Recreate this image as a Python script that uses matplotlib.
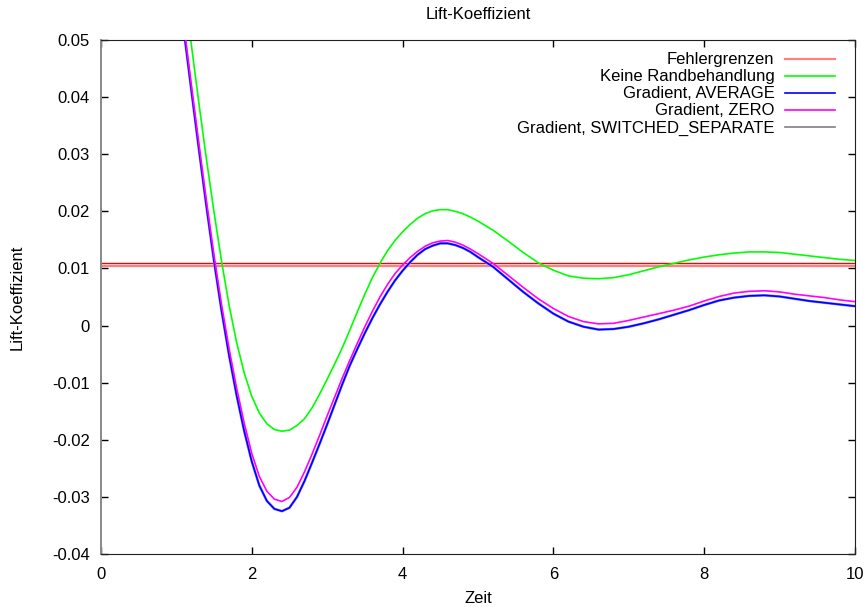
import matplotlib
matplotlib.use('Agg')
import matplotlib.pyplot as plt
from matplotlib.ticker import FuncFormatter

plt.rcParams['font.family'] = ['Liberation Sans', 'DejaVu Sans']
plt.rcParams['font.size'] = 12

# Zeitpunkte: 0.1er Schritte bis 5, danach 0.2er
zeit = [1.0, 1.1, 1.2, 1.3, 1.4, 1.5, 1.6, 1.7, 1.8, 1.9,
        2.0, 2.1, 2.2, 2.3, 2.4, 2.5, 2.6, 2.7, 2.8, 2.9,
        3.0, 3.1, 3.2, 3.3, 3.4, 3.5, 3.6, 3.7, 3.8, 3.9,
        4.0, 4.1, 4.2, 4.3, 4.4, 4.5, 4.6, 4.7, 4.8, 4.9,
        5.0, 5.2, 5.4, 5.6, 5.8, 6.0, 6.2, 6.4, 6.6, 6.8,
        7.0, 7.2, 7.4, 7.6, 7.8, 8.0, 8.2, 8.4, 8.6, 8.8,
        9.0, 9.2, 9.4, 9.6, 9.8, 10.0]

keine_rand = [0.0690, 0.0590, 0.0490, 0.0388, 0.0290, 0.0198, 0.0112, 0.0035, -0.0030, -0.0083,
              -0.0124, -0.0153, -0.0172, -0.0182, -0.0185, -0.0183, -0.0175, -0.0163, -0.0144, -0.0120,
              -0.0094, -0.0067, -0.0039, -0.0008, 0.0024, 0.0055, 0.0084, 0.0109, 0.0131, 0.0149,
              0.0164, 0.0177, 0.0188, 0.0196, 0.0201, 0.0203, 0.0203, 0.0200, 0.0196, 0.0190,
              0.0183, 0.0167, 0.0148, 0.0128, 0.0110, 0.0097, 0.0087, 0.0083, 0.0082, 0.0084,
              0.0089, 0.0096, 0.0103, 0.0109, 0.0115, 0.0120, 0.0124, 0.0127, 0.0129, 0.0129,
              0.0128, 0.0125, 0.0122, 0.0119, 0.0116, 0.0114]

grad_average = [0.0620, 0.0515, 0.0410, 0.0307, 0.0207, 0.0112, 0.0025, -0.0053, -0.0123, -0.0185,
                -0.0238, -0.0280, -0.0307, -0.0321, -0.0325, -0.0319, -0.0300, -0.0272, -0.0240, -0.0207,
                -0.0173, -0.0138, -0.0103, -0.0070, -0.0041, -0.0013, 0.0013, 0.0037, 0.0059, 0.0079,
                0.0096, 0.0111, 0.0124, 0.0134, 0.0140, 0.0144, 0.0144, 0.0141, 0.0136, 0.0129,
                0.0120, 0.0103, 0.0081, 0.0059, 0.0039, 0.0021, 0.0007, -0.0002, -0.0007, -0.0006,
                -0.0002, 0.0004, 0.0011, 0.0019, 0.0027, 0.0036, 0.0044, 0.0049, 0.0052, 0.0053,
                0.0051, 0.0047, 0.0043, 0.0040, 0.0037, 0.0034]

grad_zero = [0.0630, 0.0525, 0.0420, 0.0317, 0.0217, 0.0122, 0.0036, -0.0041, -0.0110, -0.0171,
             -0.0224, -0.0264, -0.0290, -0.0304, -0.0308, -0.0301, -0.0283, -0.0256, -0.0225, -0.0192,
             -0.0158, -0.0125, -0.0092, -0.0061, -0.0031, -0.0002, 0.0025, 0.0050, 0.0072, 0.0091,
             0.0106, 0.0119, 0.0130, 0.0139, 0.0145, 0.0148, 0.0149, 0.0146, 0.0141, 0.0134,
             0.0126, 0.0109, 0.0088, 0.0067, 0.0047, 0.0030, 0.0016, 0.0007, 0.0003, 0.0004,
             0.0009, 0.0015, 0.0021, 0.0027, 0.0034, 0.0043, 0.0051, 0.0057, 0.0060, 0.0061,
             0.0059, 0.0055, 0.0052, 0.0049, 0.0045, 0.0042]

# SWITCHED_SEPARATE liegt auf AVERAGE
grad_switched = list(grad_average)

# obere / untere Fehlergrenze
fehler_oben = 0.0110
fehler_unten = 0.0104

fig = plt.figure(figsize=(8.67, 6.07), dpi=100)
ax = fig.add_axes([0.1165, 0.0873, 0.8695, 0.8467])

ax.axhline(fehler_oben, color='#ff0000', lw=1.0)
ax.axhline(fehler_unten, color='#ff8080', lw=1.6, label='Fehlergrenzen')
ax.plot(zeit, keine_rand, color='#00ff00', lw=1.2, label='Keine Randbehandlung')
ax.plot(zeit, grad_switched, color='#9090ff', lw=1.9, zorder=2)
ax.plot(zeit, grad_average, color='#0000ff', lw=1.2, label='Gradient, AVERAGE', zorder=3)
ax.plot(zeit, grad_zero, color='#ff00ff', lw=1.2, label='Gradient, ZERO', zorder=4)
ax.plot([], [], color='#808080', lw=1.2, label='Gradient, SWITCHED_SEPARATE')

ax.set_xlim(0, 10)
ax.set_ylim(-0.04, 0.05)
ax.set_xticks([0, 2, 4, 6, 8, 10])
ax.set_yticks([-0.04, -0.03, -0.02, -0.01, 0, 0.01, 0.02, 0.03, 0.04, 0.05])
ax.yaxis.set_major_formatter(FuncFormatter(lambda v, p: '%g' % round(v, 3)))
ax.tick_params(direction='in', length=5, width=1, top=True, right=True)
ax.tick_params(axis='y', pad=8)
ax.tick_params(axis='x', pad=9)
for s in ax.spines.values():
    s.set_color('#202020')
ax.spines['left'].set_color('#888888')
ax.spines['left'].set_linewidth(1.4)

ax.set_title('Lift-Koeffizient', fontsize=12, pad=15)
ax.set_xlabel('Zeit', labelpad=7)
ax.set_ylabel('Lift-Koeffizient', labelpad=20)

ax.legend(loc='upper right', bbox_to_anchor=(0.9907, 1.002), frameon=False,
          markerfirst=False, handlelength=3.0, handletextpad=0.6,
          labelspacing=0.12, borderaxespad=0.4, fontsize=12)

fig.savefig('out.png', dpi=100)
